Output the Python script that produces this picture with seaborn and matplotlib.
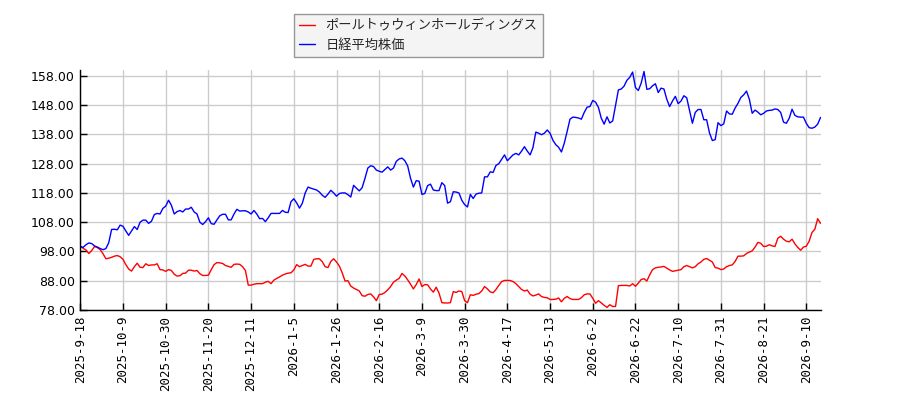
import numpy as np
import pandas as pd
import matplotlib
matplotlib.use("Agg")
import matplotlib.pyplot as plt
import seaborn as sns

# values, one per trading day
red_name = "ポールトゥウィンホールディングス"
blue_name = "日経平均株価"

red = [
    99.7, 99.1, 98.5, 97.3, 98.3, 99.7, 99.3, 98.6, 97.2, 95.5, 95.7, 96.0, 96.4, 96.6, 96.2, 95.3,
    93.5, 92.0, 91.3, 92.8, 94.0, 92.6, 92.5, 93.8, 93.2, 93.4, 93.4, 93.8, 91.8, 91.7, 91.2, 91.8,
    91.5, 90.2, 89.6, 89.7, 90.5, 90.6, 91.6, 91.6, 91.3, 91.5, 90.4, 89.8,
    89.8, 89.9, 91.8, 93.5, 94.2, 94.1, 93.9, 93.2, 92.9, 92.6, 93.6, 93.7, 93.6, 92.8, 91.5, 86.5,
    86.5, 86.8, 87.0, 87.0, 87.0, 87.5, 87.8, 87.0, 88.2, 88.8, 89.3, 89.9, 90.3, 90.6, 90.7, 91.7,
    93.5, 92.8, 93.2, 93.6, 93.0, 93.0, 95.3, 95.5, 95.5, 94.5, 92.8, 92.5,
    94.6, 95.5, 94.4, 93.0, 90.7, 87.9, 88.0, 86.2, 85.5, 85.0, 84.5, 82.9, 82.7, 83.3, 83.5, 82.5,
    81.2, 83.3, 83.4, 84.0, 84.9, 86.0, 87.5, 88.2, 88.8, 90.5, 89.6, 88.3, 86.8, 85.2, 86.7, 88.6,
    86.0, 86.7, 86.6, 85.2, 84.1, 85.8, 83.8, 80.5, 80.4, 80.4, 80.5,
    84.3, 84.0, 84.5, 84.3, 81.2, 80.5, 83.2, 83.0, 83.4, 83.6, 84.5, 86.0, 85.2, 84.2, 83.9, 85.0,
    86.4, 87.7, 88.1, 88.1, 88.1, 87.7, 87.0, 86.0, 85.0, 84.5, 84.8, 83.4, 82.8, 83.1, 83.5, 82.6,
    82.3, 82.2, 81.6, 81.6, 81.7, 82.1, 80.8, 82.0, 82.6, 81.9, 81.6, 81.6,
    81.6, 82.2, 83.2, 83.5, 83.5, 82.0, 80.3, 81.2, 80.4, 79.6, 78.9, 79.8, 79.2, 79.2, 86.3, 86.4,
    86.4, 86.4, 86.2, 87.0, 86.1, 87.2, 88.4, 88.7, 87.9, 90.0, 91.8, 92.4, 92.6, 92.7, 92.9, 92.3,
    91.7, 91.2, 91.4, 91.6, 91.8, 92.8, 93.2, 92.8, 92.4, 92.8, 93.8,
    94.4, 95.3, 95.6, 95.0, 94.4, 92.5, 92.3, 91.8, 92.0, 92.8, 93.2, 93.4, 94.6, 96.4, 96.4, 96.5,
    97.3, 97.8, 98.2, 99.5, 101.1, 100.8, 99.7, 99.8, 100.3, 99.9, 99.7, 102.5, 103.2, 102.2, 101.5,
    101.3, 102.2, 100.6, 99.4, 98.4, 99.5, 99.8, 101.5, 104.5, 105.6, 109.2, 107.6,
]

blue = [
    99.7, 99.4, 100.3, 100.9, 100.7, 99.9, 99.5, 99.0, 98.6, 99.0, 101.0, 105.5, 105.6, 105.4, 107.0,
    106.6, 105.0, 103.5, 105.0, 106.5, 105.5, 108.0, 108.7, 108.7, 107.6, 108.3, 110.6, 111.0, 110.8,
    112.7, 113.5, 115.5, 113.8, 110.8, 111.6, 112.0, 111.5, 112.5, 112.5, 113.1, 111.5, 110.8, 108.0,
    107.2,
    108.2, 109.5, 107.5, 107.3, 108.8, 110.2, 110.7, 110.7, 108.8, 108.8, 110.8, 112.4, 111.8, 111.9,
    111.9, 111.5, 110.8, 112.0, 110.8, 109.2, 109.3, 108.2, 109.5, 111.0, 111.0, 111.0, 111.0, 112.0,
    111.4, 111.3, 115.0, 116.0, 114.6, 112.8, 114.5, 118.0, 120.0, 119.6, 119.3, 119.0, 118.3, 117.2,
    116.5, 117.6,
    118.9, 118.0, 116.9, 117.8, 118.0, 118.0, 117.4, 116.6, 120.6, 119.6, 118.7, 119.8, 123.0, 126.5,
    127.3, 127.0, 125.8, 125.4, 125.1, 126.0, 126.9, 125.8, 126.5, 128.8, 129.6, 129.9, 129.0, 127.2,
    123.0, 120.0, 122.2, 122.0, 117.5, 117.8, 120.5, 121.0, 119.0, 118.8, 118.8, 121.5, 120.5, 114.5,
    115.0,
    118.4, 118.3, 118.0, 115.5, 114.0, 113.2, 117.5, 116.1, 117.6, 117.9, 118.0, 123.5, 123.5, 125.2,
    125.0, 127.4, 128.0, 129.5, 131.0, 129.0, 130.0, 131.0, 131.5, 131.0, 132.3, 133.8, 132.3, 131.0,
    133.5, 138.8, 138.4, 137.9, 138.4, 139.5, 138.4, 136.0, 134.5, 133.6, 132.0, 135.0, 139.0, 143.2,
    143.9, 143.8,
    143.6, 143.2, 145.5, 147.3, 147.5, 149.6, 149.0, 147.2, 143.5, 141.5, 144.0, 141.9, 142.6, 148.0,
    153.2, 153.5, 154.5, 156.5, 157.5, 159.3, 154.0, 153.0, 155.5, 159.5, 153.4, 153.6, 154.6, 155.3,
    152.3, 153.8, 153.5, 150.0, 147.5, 149.4, 151.0, 148.5, 149.4, 151.2, 150.5, 146.2, 141.8, 145.5,
    146.5,
    146.5, 143.0, 143.0, 138.5, 135.9, 136.2, 142.0, 141.0, 141.6, 146.0, 145.0, 144.9, 147.0, 148.6,
    150.6, 151.5, 152.8, 150.0, 145.2, 146.3, 145.6, 144.7, 145.2, 146.0, 146.2, 146.3, 146.7, 146.5,
    145.5, 142.2, 141.8, 143.5, 146.6, 144.5, 144.0, 143.9, 143.9, 141.8, 140.3, 140.1, 140.5, 141.5,
    143.8,
]

tick_labels = [
    "2025-9-18", "2025-10-9", "2025-10-30", "2025-11-20", "2025-12-11", "2026-1-5",
    "2026-1-26", "2026-2-16", "2026-3-9", "2026-3-30", "2026-4-17", "2026-5-13",
    "2026-6-2", "2026-6-22", "2026-7-10", "2026-7-31", "2026-8-21", "2026-9-10",
]
y_ticks = [78, 88, 98, 108, 118, 128, 138, 148, 158]

df = pd.DataFrame({"day": np.arange(len(red)), red_name: red, blue_name: blue})

sns.set_theme(style="whitegrid")
plt.rcParams["font.family"] = ["Noto Sans CJK JP", "DejaVu Sans"]

fig = plt.figure(figsize=(9, 4), dpi=100)
ax = fig.add_axes([0.0892, 0.225, 0.8225, 0.6])

sns.lineplot(data=df, x="day", y=red_name, color="red", linewidth=1, ax=ax, label=red_name)
sns.lineplot(data=df, x="day", y=blue_name, color="blue", linewidth=1, ax=ax, label=blue_name)

ax.set_xlim(0, len(red) - 1)
ax.set_ylim(78, 160)
ax.set_xticks(np.arange(0, len(red), 15))
ax.set_xticklabels(tick_labels, rotation=90, fontsize=9, family="DejaVu Sans Mono")
ax.set_yticks(y_ticks)
ax.set_yticklabels([f"{v:.2f}" for v in y_ticks], fontsize=9, family="DejaVu Sans")
ax.set_xlabel("")
ax.set_ylabel("")

ax.grid(True, color="#cccccc", linewidth=1)
for side in ["top", "right"]:
    ax.spines[side].set_visible(False)
for side in ["left", "bottom"]:
    ax.spines[side].set_color("black")
    ax.spines[side].set_linewidth(1)
ax.tick_params(axis="both", direction="in", length=5, width=1, color="black",
               left=True, bottom=True, labelcolor="black", pad=4)

leg = ax.legend(loc="upper left", bbox_to_anchor=(294 / 900, 1 - 14 / 400),
                bbox_transform=fig.transFigure, borderaxespad=0, fontsize=9.5,
                frameon=True, fancybox=False, facecolor="#f2f2f2", edgecolor="#808080",
                handlelength=1.2)
leg.get_frame().set_linewidth(1)

fig.savefig("out.png", dpi=100)
